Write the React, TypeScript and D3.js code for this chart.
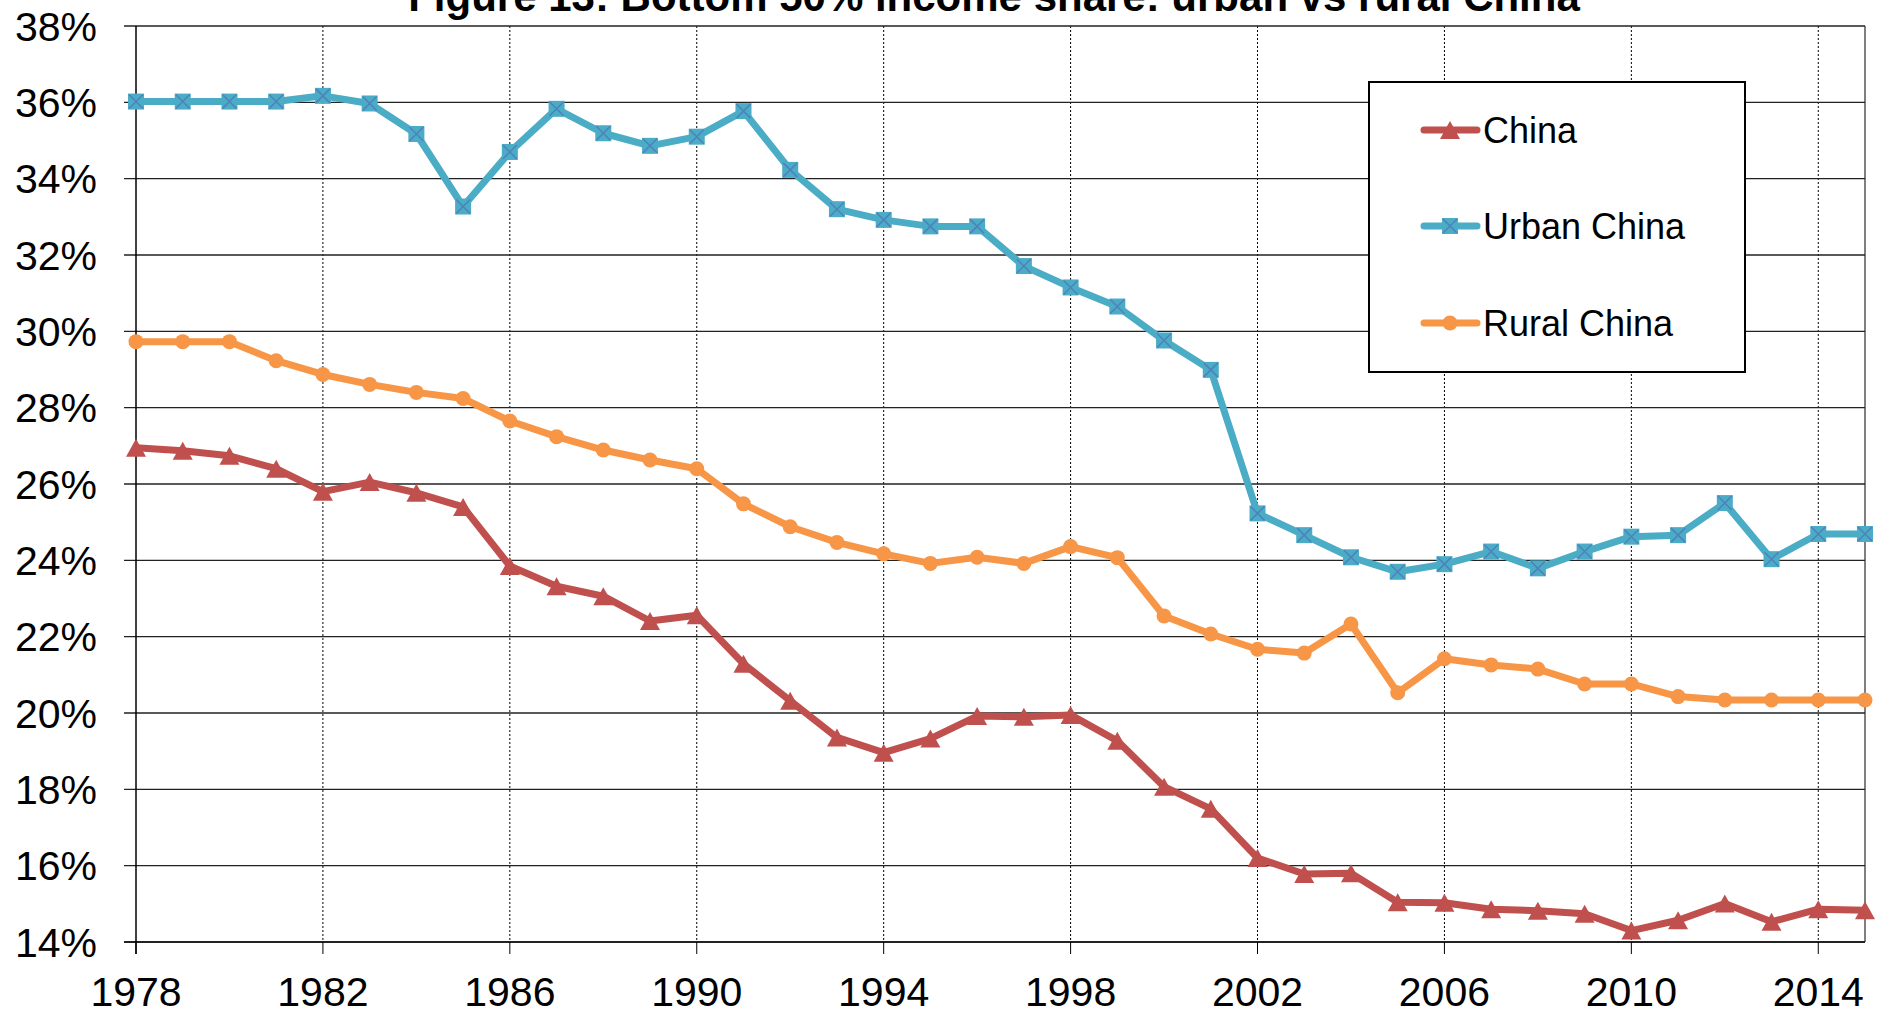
import React from 'react';
import * as d3 from 'd3';

// data, bottom 50% income share (%)
const years = d3.range(1978, 2016);
const china = [26.95, 26.87, 26.74, 26.40, 25.80, 26.05, 25.77, 25.40, 23.85, 23.32, 23.06, 22.41, 22.56, 21.29, 20.32, 19.36, 18.96, 19.33, 19.92, 19.90, 19.95, 19.27, 18.07, 17.49, 16.20, 15.78, 15.80, 15.04, 15.03, 14.86, 14.82, 14.74, 14.30, 14.57, 15.01, 14.53, 14.86, 14.83];
const urban = [36.02, 36.02, 36.02, 36.02, 36.17, 35.97, 35.17, 33.27, 34.70, 35.83, 35.19, 34.86, 35.10, 35.77, 34.23, 33.20, 32.92, 32.75, 32.75, 31.71, 31.15, 30.65, 29.76, 28.99, 25.23, 24.66, 24.08, 23.70, 23.90, 24.23, 23.79, 24.23, 24.62, 24.66, 25.50, 24.03, 24.69, 24.69];
const rural = [29.73, 29.73, 29.73, 29.23, 28.87, 28.61, 28.40, 28.24, 27.65, 27.24, 26.89, 26.63, 26.40, 25.48, 24.88, 24.47, 24.17, 23.92, 24.08, 23.92, 24.36, 24.07, 22.54, 22.07, 21.67, 21.57, 22.33, 20.53, 21.42, 21.26, 21.15, 20.76, 20.76, 20.43, 20.34, 20.34, 20.34, 20.34];

const yTicks = [14, 16, 18, 20, 22, 24, 26, 28, 30, 32, 34, 36, 38];
const xTicks = [1978, 1982, 1986, 1990, 1994, 1998, 2002, 2006, 2010, 2014];
const seriesNames = ['China', 'Urban China', 'Rural China'];

const font = '"Liberation Sans", Arial, sans-serif';
const RED = '#C0504D';
const BLUE = '#4BACC6';
const ORANGE = '#F79646';

const width = 1878;
const height = 1013;
const margin = { top: 26, right: 13, bottom: 71, left: 136 };

const x = d3.scaleLinear().domain([1978, 2015]).range([margin.left, width - margin.right]);
const y = d3.scaleLinear().domain([14, 38]).range([height - margin.bottom, margin.top]);

const marker = (kind: string, cx: number, cy: number, key: string | number) => {
  if (kind === 'tri') {
    return <path key={key} d={`M${cx},${cy - 9}L${cx + 10},${cy + 9}L${cx - 10},${cy + 9}Z`} fill={RED} />;
  }
  if (kind === 'sq') {
    return (
      <g key={key}>
        <rect x={cx - 8} y={cy - 8} width={16} height={16} fill={BLUE} />
        <path d={`M${cx - 7},${cy - 7}L${cx + 7},${cy + 7}M${cx + 7},${cy - 7}L${cx - 7},${cy + 7}`} stroke="#4F81BD" strokeWidth={1.5} />
      </g>
    );
  }
  return <circle key={key} cx={cx} cy={cy} r={7.5} fill={ORANGE} />;
};

const App = () => {
  const series = [
    { name: seriesNames[0], values: china, color: RED, kind: 'tri' },
    { name: seriesNames[1], values: urban, color: BLUE, kind: 'sq' },
    { name: seriesNames[2], values: rural, color: ORANGE, kind: 'dot' },
  ];

  const line = d3.line<number>()
    .x((_, i) => x(years[i]))
    .y(d => y(d));

  const x0 = x.range()[0];
  const x1 = x.range()[1];
  const yb = y.range()[0];

  // legend box
  const lg = { x: 1369, y: 82, w: 376, h: 290 };
  const legendRows = [130, 226, 323];

  return (
    <svg width={width} height={height} style={{ position: 'absolute', left: 0, top: 0, background: '#fff' }}>
      <rect width={width} height={height} fill="#fff" />

      {/* title, cut at the top like the original */}
      <text x={994} y={11} textAnchor="middle" fontFamily={font} fontWeight="bold" fontSize={42}>
        Figure 13: Bottom 50% income share: urban vs rural China
      </text>

      {/* vertical dotted grid */}
      {xTicks.filter(t => t !== 1978).map(t => (
        <line key={t} x1={x(t)} x2={x(t)} y1={y(38)} y2={yb} stroke="#000" strokeWidth={1} strokeDasharray="2,2" />
      ))}
      <line x1={x1} x2={x1} y1={y(38)} y2={yb} stroke="#555" strokeWidth={1.5} />

      {/* horizontal grid + y ticks */}
      {yTicks.map(t => (
        <g key={t}>
          <line x1={x0 - 12} x2={x1} y1={y(t)} y2={y(t)} stroke="#222" strokeWidth={t === 14 ? 2 : 1.4} />
          <text x={97} y={y(t)} dy="0.36em" textAnchor="end" fontFamily={font} fontSize={41}>{t}%</text>
        </g>
      ))}

      {/* left axis */}
      <line x1={x0} x2={x0} y1={y(38)} y2={yb + 12} stroke="#000" strokeWidth={1.5} />

      {/* x ticks and labels */}
      {xTicks.map(t => (
        <g key={t}>
          <line x1={x(t)} x2={x(t)} y1={yb} y2={yb + 12} stroke="#000" strokeWidth={1} />
          <text x={x(t)} y={1006} textAnchor="middle" fontFamily={font} fontSize={41}>{t}</text>
        </g>
      ))}

      {/* series */}
      {series.map(s => (
        <g key={s.name}>
          <path d={line(s.values) || ''} fill="none" stroke={s.color} strokeWidth={7} strokeLinejoin="round" />
          {s.values.map((v, i) => marker(s.kind, x(years[i]), y(v), i))}
        </g>
      ))}

      {/* legend */}
      <rect x={lg.x} y={lg.y} width={lg.w} height={lg.h} fill="#fff" stroke="#000" strokeWidth={2} />
      {series.map((s, i) => (
        <g key={s.name}>
          <line x1={1424} x2={1477} y1={legendRows[i]} y2={legendRows[i]} stroke={s.color} strokeWidth={7} strokeLinecap="round" />
          {marker(s.kind, 1450, legendRows[i], 'm')}
          <text x={1483} y={legendRows[i]} dy="0.36em" fontFamily={font} fontSize={36}>{s.name}</text>
        </g>
      ))}
    </svg>
  );
};

export default App;
